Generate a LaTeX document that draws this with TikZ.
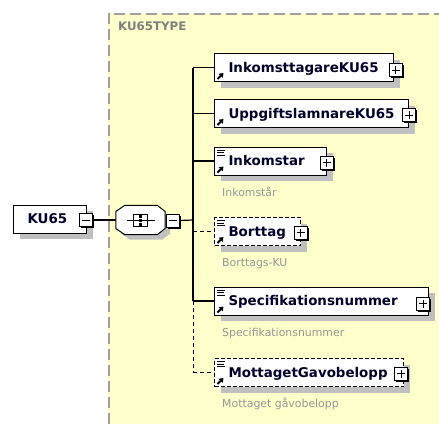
\documentclass[tikz,border=0pt]{standalone}
\usepackage{fontspec}
\setmainfont{DejaVu Sans}
\usetikzlibrary{calc,shadows,arrows.meta}
\definecolor{bgyellow}{RGB}{255,255,204}
\definecolor{framec}{RGB}{160,160,160}
\definecolor{shadowc}{RGB}{192,192,192}
\definecolor{navyt}{RGB}{0,0,40}
\definecolor{lblc}{RGB}{150,150,150}
\definecolor{titlec}{RGB}{128,128,128}
\newcommand\elemfont{\bfseries\fontsize{13.4}{16}\selectfont}
\newcommand\lblfont{\fontsize{10.9}{13}\selectfont}
\newcommand\docicon[1]{\draw[line width=0.9pt] ($(#1.north west)+(3,3.5)$) -- +(8,0) ($(#1.north west)+(3,6)$) -- +(7,0) ($(#1.north west)+(3,8.5)$) -- +(8,0);}
\newcommand\reficon[1]{\draw[line width=1.8pt, -{Triangle[length=4pt,width=5.5pt]}] ($(#1.south west)+(3.5,-3)$) -- +(6,-6);}
\newcommand\octpath[2]{($(#1.north west)+(9,0)+(#2,#2)$) -- ($(#1.north east)+(-8,0)+(#2,#2)$) -- ($(#1.east)+(0,-8.5)+(#2,#2)$) -- ($(#1.east)+(0,8.5)+(#2,#2)$) -- ($(#1.south east)+(-8,0)+(#2,#2)$) -- ($(#1.south west)+(9,0)+(#2,#2)$) -- ($(#1.west)+(0,8.5)+(#2,#2)$) -- ($(#1.west)+(0,-8.5)+(#2,#2)$) -- cycle}
\tikzset{
  elem/.style={draw=black, line width=1pt, fill=white, anchor=west, minimum height=28pt,
    inner sep=0pt, text=navyt, font=\elemfont, text height=9.8pt, text depth=0pt,
    general shadow={shadow xshift=6pt, shadow yshift=-6pt, fill=shadowc}},
  elemopt/.style={elem, dash pattern=on 4pt off 2pt},
  pmbox/.style={draw=black, line width=1pt, fill=white, minimum size=13pt, inner sep=0pt,
    general shadow={shadow xshift=1.5pt, shadow yshift=-1.5pt, fill=black}},
  minusbox/.style={pmbox, path picture={\draw[line width=1pt] ([xshift=-4pt]path picture bounding box.center) -- ([xshift=4pt]path picture bounding box.center);}},
  plusbox/.style={pmbox, path picture={\draw[line width=1pt] ([xshift=-4pt]path picture bounding box.center) -- ([xshift=4pt]path picture bounding box.center) ([yshift=-4pt]path picture bounding box.center) -- ([yshift=4pt]path picture bounding box.center);}},
  seqbox/.style={rectangle, draw=none, minimum width=49pt, minimum height=29pt, inner sep=0pt},
  conn/.style={line width=1.2pt, draw=black},
  connopt/.style={line width=1pt, draw=black, dash pattern=on 4pt off 3pt},
  lbl/.style={anchor=west, inner sep=0pt, text=lblc, font=\lblfont, text height=7.9pt, text depth=0pt},
}
\begin{document}
\begin{tikzpicture}[x=1pt, y=-1pt]
\useasboundingbox (0,0) rectangle (439,424);
\fill[white] (0,0) rectangle (439,424);
% type background
\fill[bgyellow] (108,13) rectangle (439,424);
\draw[framec, line width=2pt, dash pattern=on 11pt off 5pt] (108.5,424) -- (108.5,13.5) -- (439,13.5);
\node[anchor=west, inner sep=0pt, text=titlec, font=\bfseries\fontsize{11.8}{14}\selectfont, text height=8.6pt, text depth=0pt] (title) at (118,26) {KU65TYPE};

\coordinate (trunk) at (193,220);
\coordinate (e1c) at (214,67.5);
\coordinate (e2c) at (214,113.5);
\coordinate (e3c) at (214,161);
\coordinate (e4c) at (214,231.5);
\coordinate (e5c) at (214,301);
\coordinate (e6c) at (214,372.5);

% connector lines
\node[seqbox] (seq) at (140.5,220) {};
\node[elem] (root) at (13,219) {\makebox[73pt][l]{\hspace{14pt}KU65}};
\node[minusbox] (km) at (85.5,220) {};
\node[minusbox] (sm) at (172.5,220.5) {};
\draw[conn] (km.east) -- (seq.west);
\draw[conn] (sm.east) -- (trunk);

% sequence compositor
\fill[shadowc] \octpath{seq}{5};
\draw[line width=1pt, fill=white] \octpath{seq}{0};
\node[minusbox] at (sm) {};
\draw[line width=1pt] ($(seq.center)+(-14,0)$) -- ($(seq.center)+(14,0)$);
\draw[line width=1pt] ($(seq.center)+(-7,-6)$) rectangle ($(seq.center)+(7,6)$);
\fill[black] ($(seq.center)+(-1.5,-5.5)$) rectangle ($(seq.center)+(1.5,-2.5)$);
\fill[black] ($(seq.center)+(-1.5,-1.5)$) rectangle ($(seq.center)+(1.5,1.5)$);
\fill[black] ($(seq.center)+(-1.5,2.5)$) rectangle ($(seq.center)+(1.5,5.5)$);

% children
\node[elem] (e1) at (e1c) {\makebox[179pt][l]{\hspace{14pt}InkomsttagareKU65}};
\node[elem] (e2) at (e2c) {\makebox[194pt][l]{\hspace{14pt}UppgiftslamnareKU65}};
\node[elem] (e3) at (e3c) {\makebox[112pt][l]{\hspace{14pt}Inkomstar}};
\node[elemopt] (e4) at (e4c) {\makebox[86pt][l]{\hspace{14pt}Borttag}};
\node[elem] (e5) at (e5c) {\makebox[214pt][l]{\hspace{14pt}Specifikationsnummer}};
\node[elemopt] (e6) at (e6c) {\makebox[189pt][l]{\hspace{14pt}MottagetGavobelopp}};

\node[plusbox] (p1) at ($(e1.east)+(1.5,2.5)$) {};
\node[plusbox] (p2) at ($(e2.east)+(0,1.5)$) {};
\node[plusbox] (p3) at ($(e3.east)+(-0.5,1.5)$) {};
\node[plusbox] (p4) at ($(e4.east)+(-0.5,1)$) {};
\node[plusbox] (p5) at ($(e5.east)+(-6,2.5)$) {};
\node[plusbox] (p6) at ($(e6.east)+(-3,1)$) {};

\foreach \n in {e1,e2,e3,e4,e5,e6} {\reficon{\n}}
\foreach \n in {e3,e4,e5,e6} {\docicon{\n}}

\node[lbl] (l3) at ($(e3.south west)+(8,17)$) {Inkomstår};
\node[lbl] (l4) at ($(e4.south west)+(8,17)$) {Borttags-KU};
\node[lbl] (l5) at ($(e5.south west)+(8,17)$) {Specifikationsnummer};
\node[lbl] (l6) at ($(e6.south west)+(8,17)$) {Mottaget gåvobelopp};

\draw[conn] (e1.west -| trunk) -- (e5.west -| trunk);
\draw[connopt] (e5.west -| trunk) -- (e6.west -| trunk);
\draw[conn] (e1.west -| trunk) -- (e1.west);
\draw[conn] (e2.west -| trunk) -- (e2.west);
\draw[conn] (e3.west -| trunk) -- (e3.west);
\draw[connopt] (e4.west -| trunk) -- (e4.west);
\draw[conn] (e5.west -| trunk) -- (e5.west);
\draw[connopt] (e6.west -| trunk) -- (e6.west);
\end{tikzpicture}
\end{document}
